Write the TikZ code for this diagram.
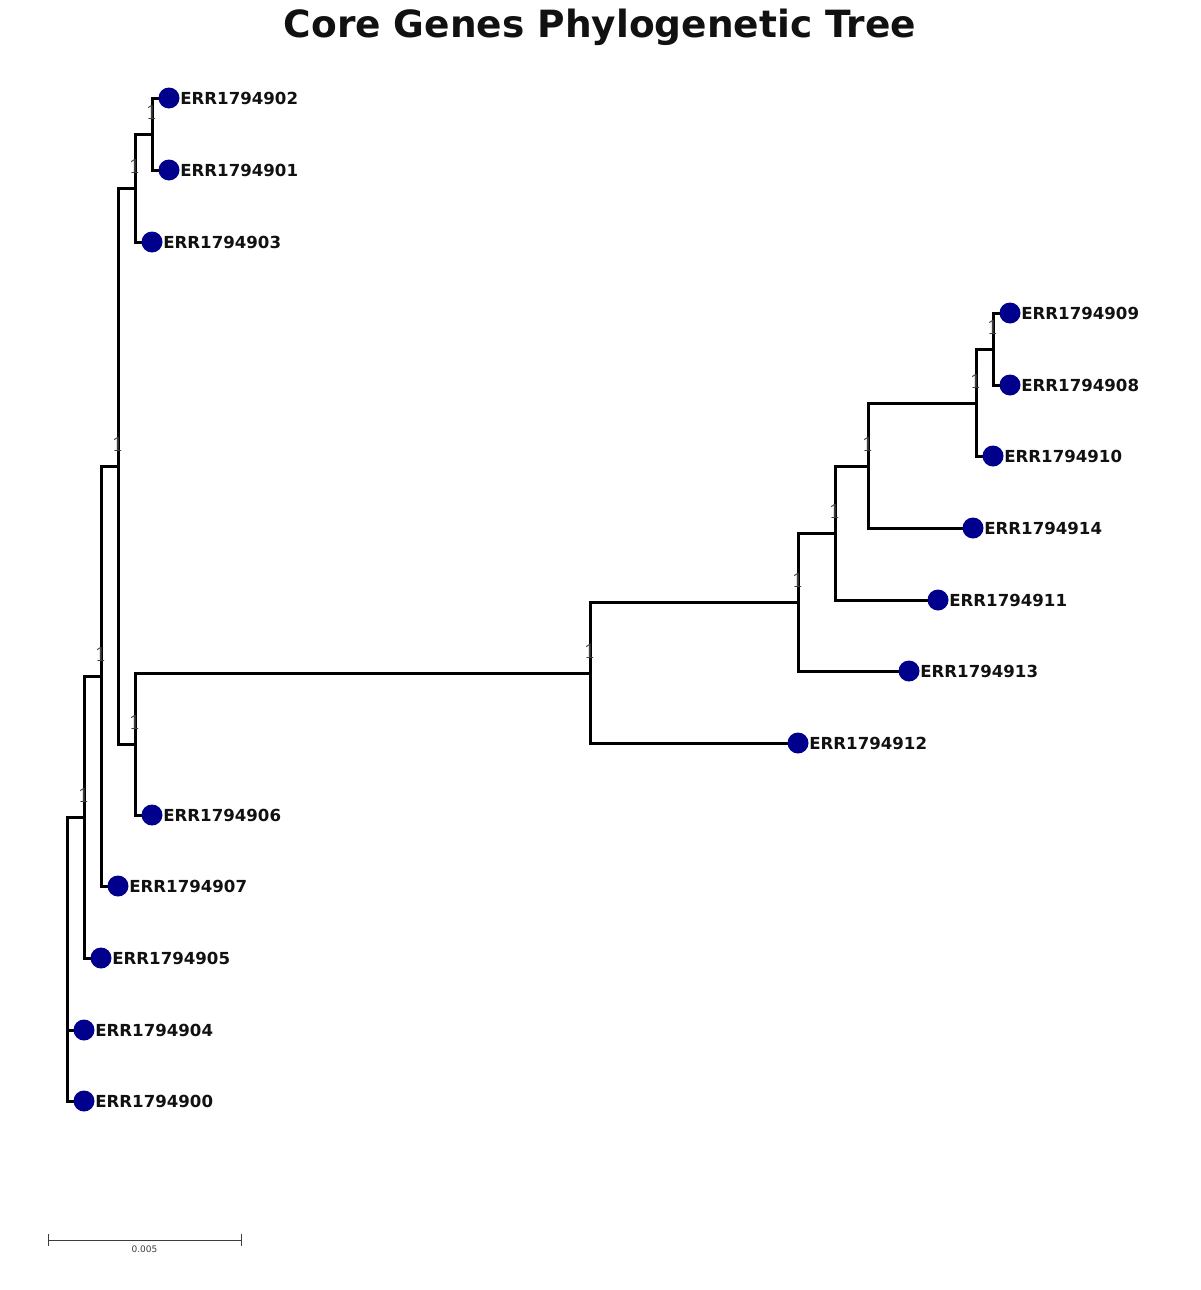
\documentclass[tikz,border=0pt]{standalone}
\usepackage{fontspec}
\setmainfont{DejaVu Sans}
\newfontfamily\supfont{DejaVu Serif}
\definecolor{dotblue}{RGB}{0,0,140}
\definecolor{txt}{RGB}{17,17,17}
\definecolor{supgray}{RGB}{60,60,60}
\definecolor{bargray}{RGB}{60,60,60}
\tikzset{
  branch/.style={line width=1.5pt, black, line join=miter},
  leafdot/.style={circle, fill=dotblue, draw=none, minimum size=10.5pt, inner sep=0pt},
  leaflabel/.style={anchor=west, inner sep=0pt, xshift=0pt, font=\bfseries\fontsize{8.3}{9}\selectfont, text=txt},
  support/.style={inner sep=0pt, font=\supfont\fontsize{9.5}{10}\selectfont, text=supgray},
  scalebar/.style={line width=0.5pt, bargray},
}
\begin{document}
\begin{tikzpicture}[x=0.5pt,y=-0.5pt]
\useasboundingbox (0,0) rectangle (1200,1290);
\node[font=\bfseries\fontsize{18.75}{20}\selectfont, text=txt] (title) at (600,27) {Core Genes Phylogenetic Tree};
% internal nodes
\coordinate (A) at (152,134);
\coordinate (B) at (135,188);
\coordinate (C) at (993,349);
\coordinate (D) at (976,403);
\coordinate (E) at (868,466);
\coordinate (F) at (835,533);
\coordinate (G) at (798,602);
\coordinate (H) at (590,673);
\coordinate (I) at (135,744);
\coordinate (J) at (118,466);
\coordinate (K) at (101,676);
\coordinate (L) at (84,817);
\coordinate (R) at (67,983);
% leaves
\coordinate (l902) at (169,98);
\coordinate (l901) at (169,170);
\coordinate (l903) at (152,242);
\coordinate (l909) at (1010,313);
\coordinate (l908) at (1010,385);
\coordinate (l910) at (993,456);
\coordinate (l914) at (973,528);
\coordinate (l911) at (938,600);
\coordinate (l913) at (909,671);
\coordinate (l912) at (798,743);
\coordinate (l906) at (152,815);
\coordinate (l907) at (118,886);
\coordinate (l905) at (101,958);
\coordinate (l904) at (84,1030);
\coordinate (l900) at (84,1101);
% branches
\draw[branch] (A) |- (l902); \draw[branch] (A) |- (l901);
\draw[branch] (B) |- (A); \draw[branch] (B) |- (l903);
\draw[branch] (C) |- (l909); \draw[branch] (C) |- (l908);
\draw[branch] (D) |- (C); \draw[branch] (D) |- (l910);
\draw[branch] (E) |- (D); \draw[branch] (E) |- (l914);
\draw[branch] (F) |- (E); \draw[branch] (F) |- (l911);
\draw[branch] (G) |- (F); \draw[branch] (G) |- (l913);
\draw[branch] (H) |- (G); \draw[branch] (H) |- (l912);
\draw[branch] (I) |- (H); \draw[branch] (I) |- (l906);
\draw[branch] (J) |- (B); \draw[branch] (J) |- (I);
\draw[branch] (K) |- (J); \draw[branch] (K) |- (l907);
\draw[branch] (L) |- (K); \draw[branch] (L) |- (l905);
\draw[branch] (R) |- (L); \draw[branch] (R) |- (l904); \draw[branch] (R) |- (l900);
% support values
\foreach \n in {A,B,C,D,E,F,G,H,I,J,K,L}{
  \node[support] (s\n) at ([yshift=10.75pt]\n) {1};
}
% leaf dots and labels
\foreach \n in {902,901,903,909,908,910,914,911,913,912,906,907,905,904,900}{
  \node[leafdot] (d\n) at (l\n) {};
  \node[leaflabel] (t\n) at (d\n.east) {ERR1794\n};
}
% scale bar
\coordinate (sb1) at (48,1240);
\coordinate (sb2) at (241,1240);
\draw[scalebar] (sb1) -- (sb2);
\draw[scalebar] ([yshift=3pt]sb1) -- ([yshift=-3pt]sb1);
\draw[scalebar] ([yshift=3pt]sb2) -- ([yshift=-3pt]sb2);
\node[font=\fontsize{4.5}{5}\selectfont, text=bargray, inner sep=0pt] (sblabel) at (144.5,1249) {0.005};
\end{tikzpicture}
\end{document}
